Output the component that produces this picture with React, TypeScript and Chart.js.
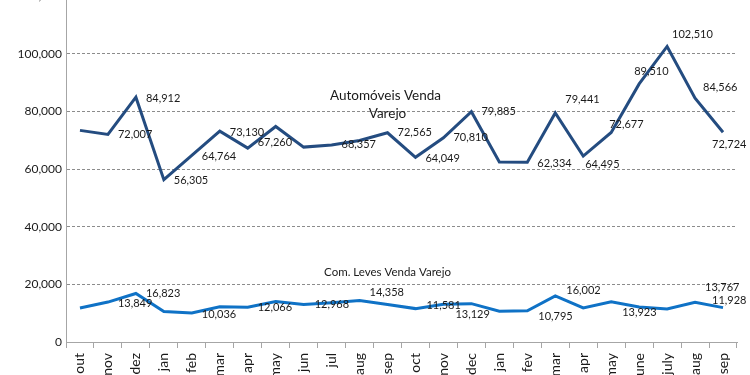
import React, { useEffect, useRef } from "react";
import { Chart, registerables } from "chart.js";

Chart.register(...registerables);

const categories = [
  "out", "nov", "dez", "jan", "feb", "mar", "apr", "may", "jun", "jul", "aug", "sep",
  "oct", "nov", "dec", "jan", "fev", "mar", "apr", "may", "june", "july", "aug", "sep",
];

const automoveis = [
  73400, 72007, 84912, 56305, 64764, 73130, 67260, 74750, 67600, 68357, 69900, 72565,
  64049, 70810, 79885, 62450, 62334, 79441, 64495, 72677, 89510, 102510, 84566, 72724,
];

const comLeves = [
  11800, 13849, 16823, 10600, 10036, 12200, 12066, 14050, 12968, 13600, 14358, 13000,
  11581, 13129, 13300, 10650, 10795, 16002, 11800, 13923, 12150, 11450, 13767, 11928,
];

const yTicks = [0, 20000, 40000, 60000, 80000, 100000, 120000];

// label placement (style): [dx, dy] from the point, null = no label
type Off = [number, number] | null;
const autoLabelOffsets: Off[] = [
  null, [10, 0], [10, 1], [10, 1], [10, 1], [10, 1], [10, -5.5], null, null, [10, 0], null, [10, 0],
  [10, 1], [10, 0], [10, 0], null, [10, 1], [10, -13.5], [2, 8], [-2, -8], [-5, -12], [5, -11.5], [8, -11], [-11, 12.5],
];
const comLabelOffsets: Off[] = [
  null, [10, 1], [10, 0], null, [10, 1], null, [10, 0], null, [11, 0], null, [10, -8], null,
  [11, -3], [12, 10], null, null, [11, 6], [11, -5], null, [11, 11], null, null, [10, -15], [-11, -7],
];

const fmt = (v: number) => v.toLocaleString("en-US");
const FONT = "Lato";

const labelsPlugin = {
  id: "pointLabels",
  afterDatasetsDraw(chart: any) {
    const ctx = chart.ctx;
    const offsets = [autoLabelOffsets, comLabelOffsets];
    ctx.save();
    ctx.font = `11px ${FONT}`;
    ctx.fillStyle = "#1a1a1a";
    ctx.textAlign = "left";
    ctx.textBaseline = "middle";
    chart.data.datasets.forEach((ds: any, di: number) => {
      const meta = chart.getDatasetMeta(di);
      meta.data.forEach((pt: any, i: number) => {
        const o = offsets[di][i];
        if (!o) return;
        ctx.fillText(fmt(ds.data[i]), pt.x + o[0], pt.y + o[1]);
      });
    });
    // series annotations
    const xs = chart.scales.x;
    const ys = chart.scales.y;
    const cx = xs.getPixelForValue(11) - 2;
    ctx.textAlign = "center";
    ctx.font = `13.5px ${FONT}`;
    ctx.fillText("Automóveis Venda", cx, ys.getPixelForValue(85600));
    ctx.fillText("Varejo", cx + 2, ys.getPixelForValue(79200));
    ctx.font = `11.5px ${FONT}`;
    ctx.fillText("Com. Leves Venda Varejo", cx + 2, ys.getPixelForValue(24100));
    ctx.restore();
  },
};

export default function App() {
  const ref = useRef<HTMLCanvasElement | null>(null);
  useEffect(() => {
    if (!ref.current) return;
    const chart = new Chart(ref.current, {
      type: "line",
      data: {
        labels: categories,
        datasets: [
          {
            label: "Automóveis Venda Varejo",
            data: automoveis,
            borderColor: "#244c80",
            borderWidth: 3,
            pointRadius: 0,
            tension: 0,
            fill: false,
          },
          {
            label: "Com. Leves Venda Varejo",
            data: comLeves,
            borderColor: "#0f72c6",
            borderWidth: 3,
            pointRadius: 0,
            tension: 0,
            fill: false,
          },
        ],
      },
      options: {
        animation: false,
        responsive: false,
        devicePixelRatio: 1,
        layout: { padding: { left: 8, right: 13, top: 16, bottom: 18 } },
        plugins: {
          legend: { display: false },
          tooltip: { enabled: false },
        },
        scales: {
          x: {
            type: "category",
            offset: true,
            grid: {
              offset: true,
              drawOnChartArea: false,
              drawTicks: true,
              tickLength: 6,
              color: "#a6a6a6",
            },
            border: { display: true, color: "#a6a6a6", width: 1 },
            ticks: {
              autoSkip: false,
              minRotation: 90,
              maxRotation: 90,
              padding: 5,
              color: "#1a1a1a",
              font: { family: FONT, size: 14 },
            },
            afterFit: (s: any) => {
              s.height = 40;
            },
          },
          y: {
            min: 0,
            max: 120000,
            afterBuildTicks: (s: any) => {
              s.ticks = yTicks.map((v) => ({ value: v }));
            },
            grid: {
              drawTicks: false,
              color: (c: any) => (c.tick && c.tick.value === 0 ? "rgba(0,0,0,0)" : "#8c8c8c"),
              lineWidth: 1,
            },
            border: { display: true, color: "#a6a6a6", width: 1, dash: [3, 2] },
            ticks: {
              padding: 4,
              color: "#1a1a1a",
              font: { family: FONT, size: 12 },
              callback: (v: any) => fmt(Number(v)),
            },
            afterFit: (s: any) => {
              s.width = 58;
            },
          },
        },
      },
      plugins: [labelsPlugin],
    });
    return () => chart.destroy();
  }, []);
  return (
    <div style={{ position: "fixed", left: 0, top: -20, width: 750, height: 420, background: "#fff" }}>
      <canvas ref={ref} width={750} height={420} style={{ display: "block" }} />
    </div>
  );
}
